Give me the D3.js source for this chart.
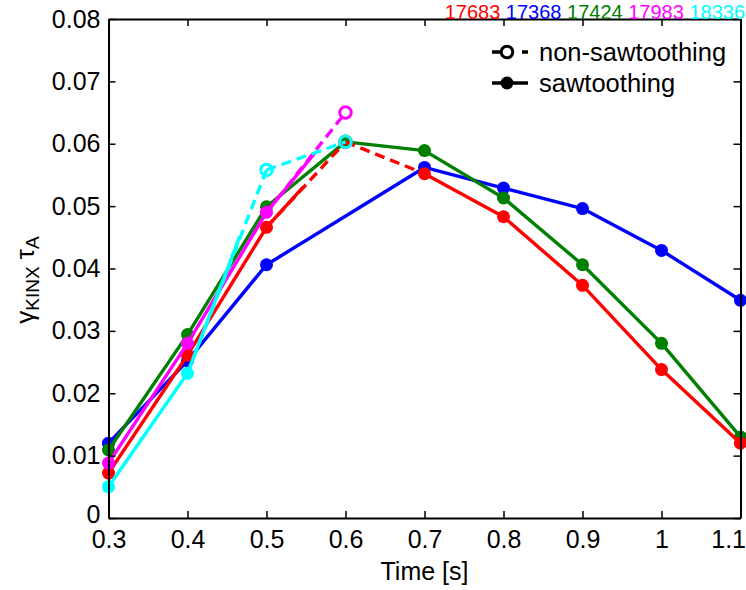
<!DOCTYPE html>
<html>
<head>
<meta charset="utf-8">
<script src="https://cdn.jsdelivr.net/npm/d3@7"></script>
<style>
  body { margin: 0; background: #fff; }
  svg { font-family: "Liberation Sans", Arial, sans-serif; }
</style>
</head>
<body>
<div id="chart"></div>
<script>
// Time points [s]
const times = [0.3, 0.4, 0.5, 0.6, 0.7, 0.8, 0.9, 1.0, 1.1];
const xTicks = [0.3, 0.4, 0.5, 0.6, 0.7, 0.8, 0.9, 1, 1.1];
const yTicks = [0, 0.01, 0.02, 0.03, 0.04, 0.05, 0.06, 0.07, 0.08];

// Shot numbers shown above the plot
const shotLabels = ["17683", "17368", "17424", "17983", "18336"];

// growth rate per shot (null = no point), "s" sawtoothing / "n" non-sawtoothing
const red = [0.0072, 0.0261, 0.0466, 0.0603, 0.0552, 0.0483, 0.0373, 0.0238, 0.0120];
const redKind = ["s", "s", "s", "n", "s", "s", "s", "s", "s"];
const blue = [0.0120, 0.0252, 0.0406, null, 0.0562, 0.0529, 0.0496, 0.0429, 0.0349];
const blueKind = ["s", "s", "s", null, "s", "s", "s", "s", "s"];
const green = [0.0109, 0.0294, 0.0499, 0.0603, 0.0589, 0.0513, 0.0406, 0.0280, 0.0130];
const greenKind = ["s", "s", "s", "s", "s", "s", "s", "s", "s"];
const magenta = [0.0088, 0.0280, 0.0490, 0.0650, null, null, null, null, null];
const magentaKind = ["s", "s", "s", "n", null, null, null, null, null];
const cyan = [0.0050, 0.0232, 0.0558, 0.0603, null, null, null, null, null];
const cyanKind = ["s", "s", "n", "n", null, null, null, null, null];

// short solid pieces leaving the last sawtoothing point: [t0, v0, t1, v1]
const redStub = [0.5, 0.0466, 0.546, 0.0530];
const magentaStub = [0.5, 0.0490, 0.561, 0.0585];
const cyanStub = [0.4, 0.0232, 0.466, 0.0451];

// drawing order
const series = [
  { color: "#0000ff", values: blue, kind: blueKind, stub: null },
  { color: "#008000", values: green, kind: greenKind, stub: null },
  { color: "#ff0000", values: red, kind: redKind, stub: redStub },
  { color: "#ff00ff", values: magenta, kind: magentaKind, stub: magentaStub },
  { color: "#00ffff", values: cyan, kind: cyanKind, stub: cyanStub },
];
const labelColors = ["#ff0000", "#0000ff", "#008000", "#ff00ff", "#00ffff"];

const W = 746, H = 590;
const margin = { top: 19, right: 5.5, bottom: 72, left: 108.5 };
const width = W - margin.left - margin.right;
const height = H - margin.top - margin.bottom;

const svg = d3.select("#chart").append("svg")
  .attr("width", W).attr("height", H);
const g = svg.append("g")
  .attr("transform", `translate(${margin.left},${margin.top})`);

const x = d3.scaleLinear().domain([0.3, 1.1]).range([0, width]);
const y = d3.scaleLinear().domain([0, 0.08]).range([height, 0]);

// Data lines
const line = d3.line().x(d => x(d[0])).y(d => y(d[1]));

series.forEach(s => {
  const pts = times.map((t, i) => ({ t, v: s.values[i], k: s.kind[i] }))
    .filter(p => p.v !== null);
  for (let i = 0; i < pts.length - 1; i++) {
    const a = pts[i], b = pts[i + 1];
    const solid = a.k === "s" && b.k === "s";
    g.append("path")
      .attr("d", line([[a.t, a.v], [b.t, b.v]]))
      .attr("fill", "none")
      .attr("stroke", s.color)
      .attr("stroke-width", 3.4)
      .attr("stroke-dasharray", solid ? null : "10,6");
  }
  if (s.stub) {
    g.append("path")
      .attr("d", line([[s.stub[0], s.stub[1]], [s.stub[2], s.stub[3]]]))
      .attr("fill", "none")
      .attr("stroke", s.color)
      .attr("stroke-width", 3.4);
  }
  g.selectAll(null)
    .data(pts)
    .enter()
    .append("circle")
    .attr("cx", d => x(d.t))
    .attr("cy", d => y(d.v))
    .attr("r", d => d.k === "s" ? 6.5 : 5.8)
    .attr("fill", d => d.k === "s" ? s.color : "none")
    .attr("stroke", d => d.k === "s" ? "none" : s.color)
    .attr("stroke-width", 3);
});

// Axes (MATLAB box with inward ticks)
const fmtY = d => d === 0 ? "0" : d3.format(".2f")(d);
const fmtX = d => d3.format("~g")(d);

const xAxis = g.append("g")
  .attr("transform", `translate(0,${height})`)
  .call(d3.axisBottom(x).tickValues(xTicks).tickSize(-7).tickSizeOuter(0).tickPadding(12).tickFormat(fmtX));
const yAxis = g.append("g")
  .call(d3.axisLeft(y).tickValues(yTicks).tickSize(-7).tickSizeOuter(0).tickPadding(8).tickFormat(fmtY));
const xTop = g.append("g")
  .call(d3.axisTop(x).tickValues(xTicks).tickSize(-7).tickSizeOuter(0).tickFormat(""));
const yRight = g.append("g")
  .attr("transform", `translate(${width},0)`)
  .call(d3.axisRight(y).tickValues(yTicks).tickSize(-7).tickSizeOuter(0).tickFormat(""));

[xAxis, yAxis, xTop, yRight].forEach(a => {
  a.selectAll("path.domain").attr("stroke", "#000").attr("stroke-width", 2);
  a.selectAll(".tick line").attr("stroke", "#000").attr("stroke-width", 1.5);
  a.selectAll("text")
    .attr("fill", "#000")
    .style("font-size", "25px")
    .style("font-family", "'Liberation Sans', Arial, sans-serif");
});

// last x label sits against the window edge
xAxis.selectAll(".tick text")
  .filter(d => d === 1.1)
  .attr("text-anchor", "end")
  .attr("x", 5);

// keep the "0" label clear of the "0.3" label
yAxis.selectAll(".tick text")
  .filter(d => d === 0)
  .attr("y", -4);

// Axis labels
g.append("text")
  .attr("x", width / 2)
  .attr("y", height + 62)
  .attr("text-anchor", "middle")
  .style("font-size", "25px")
  .text("Time [s]");

const yl = svg.append("text")
  .attr("transform", "translate(34,280) rotate(-90)")
  .attr("text-anchor", "middle")
  .style("font-size", "26px");
yl.append("tspan").text("γ");
yl.append("tspan").attr("dy", 5).style("font-size", "19px").text("KINX");
yl.append("tspan").attr("dy", -5).text(" τ");
yl.append("tspan").attr("dy", 5).style("font-size", "19px").text("A");

// Shot numbers on top
const shotText = svg.append("text")
  .attr("x", 745)
  .attr("y", 19)
  .attr("text-anchor", "end")
  .style("font-size", "20px");
shotLabels.forEach((s, i) => {
  shotText.append("tspan")
    .attr("fill", labelColors[i])
    .text((i > 0 ? " " : "") + s);
});

// Legend
const legend = svg.append("g");
const legendItems = [
  { label: "non-sawtoothing", dashed: true, ly: 52 },
  { label: "sawtoothing", dashed: false, ly: 83 },
];
legendItems.forEach(d => {
  legend.append("line")
    .attr("x1", 492).attr("x2", 528)
    .attr("y1", d.ly).attr("y2", d.ly)
    .attr("stroke", "#000").attr("stroke-width", 3.4)
    .attr("stroke-dasharray", d.dashed ? "8,22,8" : null);
  legend.append("circle")
    .attr("cx", 507).attr("cy", d.ly)
    .attr("r", d.dashed ? 5.8 : 6.5)
    .attr("fill", d.dashed ? "none" : "#000")
    .attr("stroke", d.dashed ? "#000" : "none")
    .attr("stroke-width", 3);
  legend.append("text")
    .attr("x", 539)
    .attr("y", d.ly)
    .attr("dy", "0.35em")
    .style("font-size", "25.5px")
    .text(d.label);
});
</script>
</body>
</html>
